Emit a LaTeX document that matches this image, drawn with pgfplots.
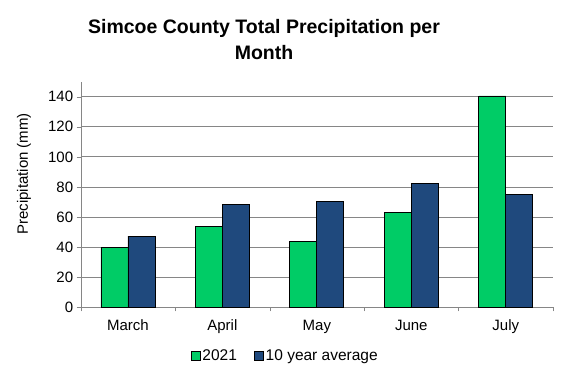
\documentclass[border=0pt]{standalone}
\usepackage{pgfplots}
\pgfplotsset{compat=1.18}
\usepackage{fontspec}
\setmainfont{Liberation Sans}
\definecolor{cgreen}{RGB}{0,204,102}
\definecolor{cblue}{RGB}{31,73,125}
\definecolor{cgrid}{RGB}{134,134,134}
\begin{document}
\begin{tikzpicture}
\path (0,0) rectangle (568bp,378bp);
\node[align=center,font=\fontsize{19.5bp}{26bp}\selectfont\bfseries] at (264bp,338bp) {Simcoe County Total Precipitation per\\Month};
\begin{axis}[
  at={(80.7bp,70.7bp)}, anchor=south west,
  scale only axis, width=472.3bp, height=225.6bp,
  ybar=0pt, bar width=0.286,
  xmin=-0.5, xmax=4.5, ymin=0, ymax=150,
  axis lines=left, axis line style={cgrid,-},
  xtick={0,...,4}, xticklabels={March,April,May,June,July},
  minor xtick={-0.5,0.5,...,4.5},
  ytick={0,20,...,140},
  tick align=outside,
  major x tick style={draw=none},
  minor x tick style={cgrid},
  y tick style={cgrid},
  major tick length=4bp, minor tick length=4bp,
  ymajorgrids, grid style={cgrid, line width=0.8pt},
  tick label style={font=\fontsize{15bp}{17bp}\selectfont},
  xticklabel style={yshift=-5bp},
  /pgf/number format/assume math mode=true,
  ylabel={Precipitation (mm)},
  ylabel style={at={(axis description cs:-0.120,0.591)}, anchor=center, font=\fontsize{15bp}{17bp}\selectfont},
  legend columns=2,
  legend style={at={(axis description cs:0.433,-0.216)}, anchor=center, draw=none, font=\fontsize{15.5bp}{17bp}\selectfont, /tikz/every even column/.append style={column sep=15bp}},
  legend image code/.code={\draw[#1] (0bp,-4.5bp) rectangle (9bp,4.5bp);},
  clip=false,
]
\addplot[fill=cgreen, draw=black, line width=0.8pt] coordinates {(0,40) (1,54) (2,44) (3,63) (4,140.5)};
\addplot[fill=cblue, draw=black, line width=0.8pt] coordinates {(0,47.3) (1,68.3) (2,70.3) (3,82.2) (4,75)};
\legend{2021,10 year average}
\end{axis}
\end{tikzpicture}
\end{document}
